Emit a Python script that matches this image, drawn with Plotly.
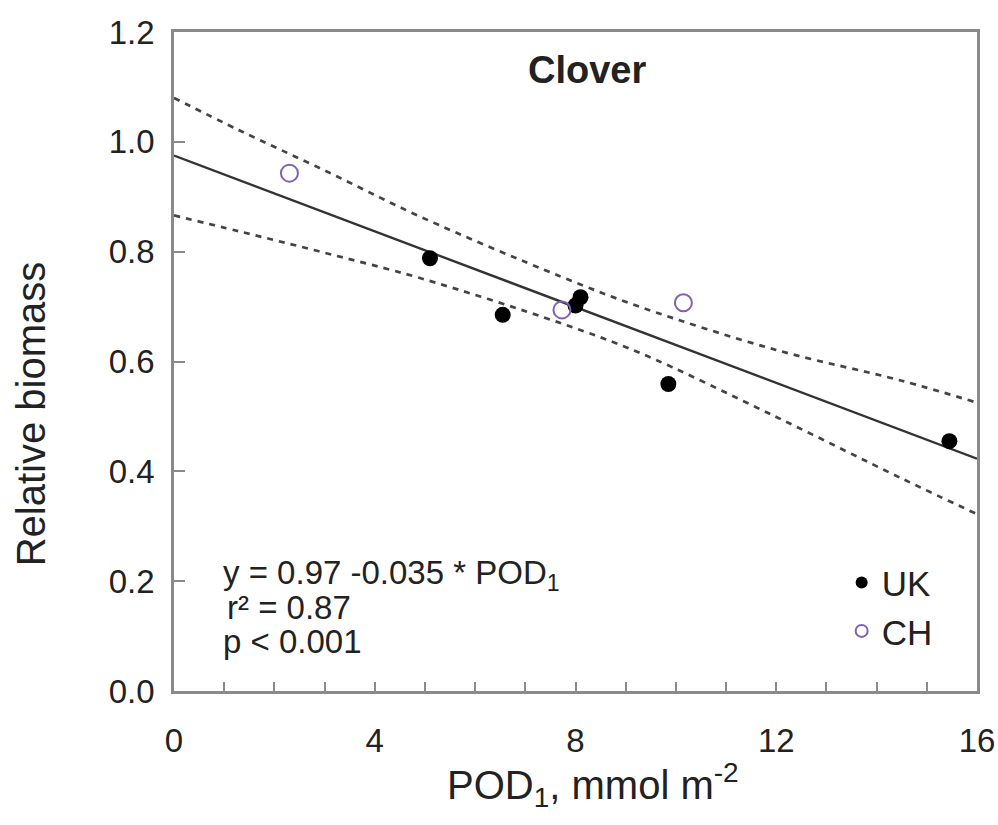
import plotly.graph_objects as go

# ---- data ----
uk_x = [5.1, 6.55, 8.0, 8.1, 9.85, 15.45]
uk_y = [0.788, 0.685, 0.702, 0.717, 0.559, 0.455]
ch_x = [2.3, 7.73, 10.15]
ch_y = [0.943, 0.694, 0.707]

fit_x = [0, 16]
fit_y = [0.975, 0.423]

band_x = [0, 1.3, 3, 4.9, 7.7, 9.3, 12, 14.5, 16]
band_upper = [1.080, 1.021, 0.948, 0.864, 0.755, 0.699, 0.621, 0.565, 0.525]
band_lower = [0.866, 0.837, 0.798, 0.752, 0.670, 0.615, 0.499, 0.387, 0.322]

x_ticks = [0, 4, 8, 12, 16]
y_ticks = [0.0, 0.2, 0.4, 0.6, 0.8, 1.0, 1.2]

FONT = "Arial, Liberation Sans, sans-serif"
AXC = "#8a8a8a"
PURPLE = "#7f62b5"

fig = go.Figure()
for yb in (band_upper, band_lower):
    fig.add_trace(go.Scatter(x=band_x, y=yb, mode="lines", showlegend=False,
                             line=dict(color="#444444", width=2.7, dash="6px,6px", shape="spline"),
                             hoverinfo="skip"))
fig.add_trace(go.Scatter(x=fit_x, y=fit_y, mode="lines", showlegend=False,
                         line=dict(color="#333333", width=2.4)))
fig.add_trace(go.Scatter(x=uk_x, y=uk_y, mode="markers", name="UK",
                         marker=dict(color="black", size=16, symbol="circle")))
fig.add_trace(go.Scatter(x=ch_x, y=ch_y, mode="markers", name="CH",
                         marker=dict(color=PURPLE, size=17, symbol="circle-open",
                                     line=dict(width=2, color=PURPLE))))

fig.update_xaxes(range=[0, 16], tickvals=x_ticks, ticktext=[str(v) for v in x_ticks],
                 ticks="inside", ticklen=9, tickwidth=1.5, tickcolor=AXC,
                 minor=dict(dtick=1, ticks="inside", ticklen=9, tickwidth=1.5, tickcolor=AXC),
                 showline=True, linecolor=AXC, linewidth=2.5, mirror=True,
                 showgrid=False, zeroline=False, ticklabelstandoff=19, automargin=False,
                 tickfont=dict(family=FONT, size=33, color="#222"))
fig.update_yaxes(range=[0, 1.2], tickvals=y_ticks, ticktext=[f"{v:.1f}" for v in y_ticks],
                 ticks="inside", ticklen=11, tickwidth=1.5, tickcolor=AXC,
                 showline=True, linecolor=AXC, linewidth=2.5, mirror=True,
                 showgrid=False, zeroline=False, ticklabelstandoff=10, automargin=False,
                 tickfont=dict(family=FONT, size=33, color="#222"))

ann = [
    dict(text="<b>Clover</b>", x=0.514, y=0.942, font=dict(size=38)),
    dict(text="POD<sub>1</sub>, mmol m<sup>-2</sup>", x=0.522, y=-0.142, font=dict(size=40)),
    dict(text="Relative biomass", x=-0.178, y=0.42, textangle=-90, font=dict(size=40)),
    dict(text="y = 0.97 -0.035 * POD<sub>1</sub>", x=0.058, y=0.176, xanchor="left", font=dict(size=33)),
    dict(text="r² = 0.87", x=0.063, y=0.126, xanchor="left", font=dict(size=33)),
    dict(text="p < 0.001", x=0.058, y=0.075, xanchor="left", font=dict(size=33)),
]
for a in ann:
    a.setdefault("xanchor", "center")
    a["font"] = dict(family=FONT, color="#222", **a["font"])
    fig.add_annotation(xref="paper", yref="paper", showarrow=False, yanchor="middle", **a)

fig.update_layout(
    width=998, height=825,
    margin=dict(l=174, r=21, t=32, b=134),
    paper_bgcolor="white", plot_bgcolor="white",
    showlegend=True,
    legend=dict(x=0.951, y=0.128, xanchor="right", yanchor="middle",
                font=dict(family=FONT, size=35, color="#222"),
                itemsizing="constant", bgcolor="rgba(0,0,0,0)", tracegroupgap=0),
)

fig.write_html("out.html")
